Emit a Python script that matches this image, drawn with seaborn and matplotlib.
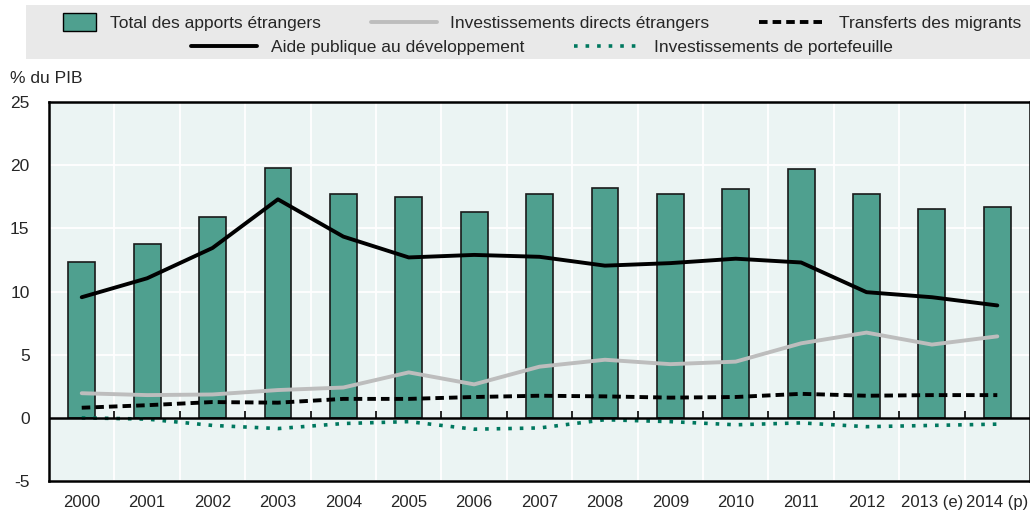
# Apports étrangers en % du PIB, 2000-2014
import numpy as np
import pandas as pd
import matplotlib
matplotlib.use("Agg")
import matplotlib.pyplot as plt
import seaborn as sns
from matplotlib.lines import Line2D
from matplotlib.patches import Patch, Rectangle
from matplotlib.legend_handler import HandlerPatch

# Donnees
annees = ["2000", "2001", "2002", "2003", "2004", "2005", "2006", "2007",
          "2008", "2009", "2010", "2011", "2012", "2013 (e)", "2014 (p)"]
total = [12.3, 13.75, 15.9, 19.8, 17.75, 17.45, 16.3, 17.7,
         18.2, 17.75, 18.15, 19.7, 17.7, 16.55, 16.7]
aide = [9.55, 11.05, 13.45, 17.3, 14.35, 12.7, 12.9, 12.75,
        12.05, 12.25, 12.6, 12.3, 9.95, 9.55, 8.9]
ide = [1.95, 1.8, 1.85, 2.2, 2.4, 3.6, 2.65, 4.05,
       4.6, 4.25, 4.45, 5.9, 6.75, 5.8, 6.45]
transferts = [0.8, 1.0, 1.25, 1.2, 1.5, 1.5, 1.65, 1.75,
              1.7, 1.6, 1.65, 1.9, 1.75, 1.8, 1.8]
portefeuille = [0.0, -0.1, -0.6, -0.85, -0.45, -0.3, -0.9, -0.8,
                -0.15, -0.3, -0.55, -0.4, -0.7, -0.6, -0.5]

df = pd.DataFrame({"annee": annees, "total": total, "aide": aide, "ide": ide,
                   "transferts": transferts, "portefeuille": portefeuille})
df["pos"] = np.arange(len(df))

sns.set_style("white")
plt.rcParams["font.family"] = ["Liberation Sans", "DejaVu Sans"]

vert = "#4fa08f"
teal = "#00785f"
gris = "#bdbdbd"
fond = "#ebf4f3"

fig = plt.figure(figsize=(10.3, 5.13), dpi=100)
ax = fig.add_axes([0.0476, 0.0624, 0.9524, 0.7386])
ax.set_facecolor(fond)

sns.barplot(data=df, x="pos", y="total", color=vert, width=0.41,
            edgecolor="#1a1a1a", linewidth=1.2, saturation=1, ax=ax, zorder=2)
sns.lineplot(data=df, x="pos", y="ide", color=gris, lw=2.8, ax=ax, zorder=3)
sns.lineplot(data=df, x="pos", y="aide", color="black", lw=2.8, ax=ax, zorder=4)
sns.lineplot(data=df, x="pos", y="transferts", color="black", lw=2.8, ax=ax, zorder=4)
ax.lines[-1].set_dashes([2.2, 1.3])
sns.lineplot(data=df, x="pos", y="portefeuille", color=teal, lw=2.6, ax=ax, zorder=4)
ax.lines[-1].set_dashes([1.0, 2.2])

n = len(annees)
ax.set_xlim(-0.5, n - 0.5)
ax.set_ylim(-5, 25)
ax.set_yticks(range(-5, 30, 5))
ax.set_yticklabels([str(v) for v in range(-5, 30, 5)], fontsize=12.5)
ax.set_xticks(df["pos"])
ax.set_xticklabels(annees, fontsize=12)
ax.set_xticks(df["pos"][:-1] + 0.5, minor=True)
ax.tick_params(axis="x", which="both", length=0, pad=10)
ax.tick_params(axis="y", length=6, direction="in", color="#555555", pad=14)
ax.grid(False)
ax.grid(True, axis="y", color="white", lw=1.3, zorder=0)
ax.grid(True, axis="x", which="minor", color="white", lw=1.3, zorder=0)
ax.set_axisbelow(True)
ax.set_xlabel("")
ax.set_ylabel("")
for s in ax.spines.values():
    s.set_color("black")
    s.set_linewidth(1.8)

# ligne du zero avec petites graduations entre les annees
ax.axhline(0, color="black", lw=1.8, zorder=5)
ax.vlines(df["pos"][:-1] + 0.5, 0, 0.55, color="black", lw=1.2, zorder=5)

fig.text(0.01, 0.838, "% du PIB", fontsize=12.5)


# carre de legende plus etroit que la ligne
def carre(legend, orig_handle, xdescent, ydescent, width, height, fontsize):
    w = width * 0.5
    return Rectangle((-xdescent + width - w, -ydescent - 2), w, height + 4)


# legende sur fond gris
fig.patches.append(Rectangle((0.025, 0.885), 0.975, 0.105, transform=fig.transFigure,
                             facecolor="#e9e9e9", edgecolor="none", zorder=0))
h1 = [Patch(facecolor=vert, edgecolor="black", linewidth=1),
      Line2D([], [], color=gris, lw=2.8),
      Line2D([], [], color="black", lw=2.8, dashes=[2.2, 1.3])]
h2 = [Line2D([], [], color="black", lw=2.8),
      Line2D([], [], color=teal, lw=2.6, dashes=[1.0, 2.2])]
opts = dict(loc="center", frameon=False, fontsize=12.5, handlelength=3.8,
            columnspacing=2.85, handletextpad=0.8)
fig.legend(h1, ["Total des apports étrangers", "Investissements directs étrangers",
                "Transferts des migrants"],
           bbox_to_anchor=(0.5105, 0.954), ncol=3,
           handler_map={Patch: HandlerPatch(patch_func=carre)}, **opts)
fig.legend(h2, ["Aide publique au développement", "Investissements de portefeuille"],
           bbox_to_anchor=(0.526, 0.907), ncol=2, **opts)

fig.savefig("out.png", dpi=100)
